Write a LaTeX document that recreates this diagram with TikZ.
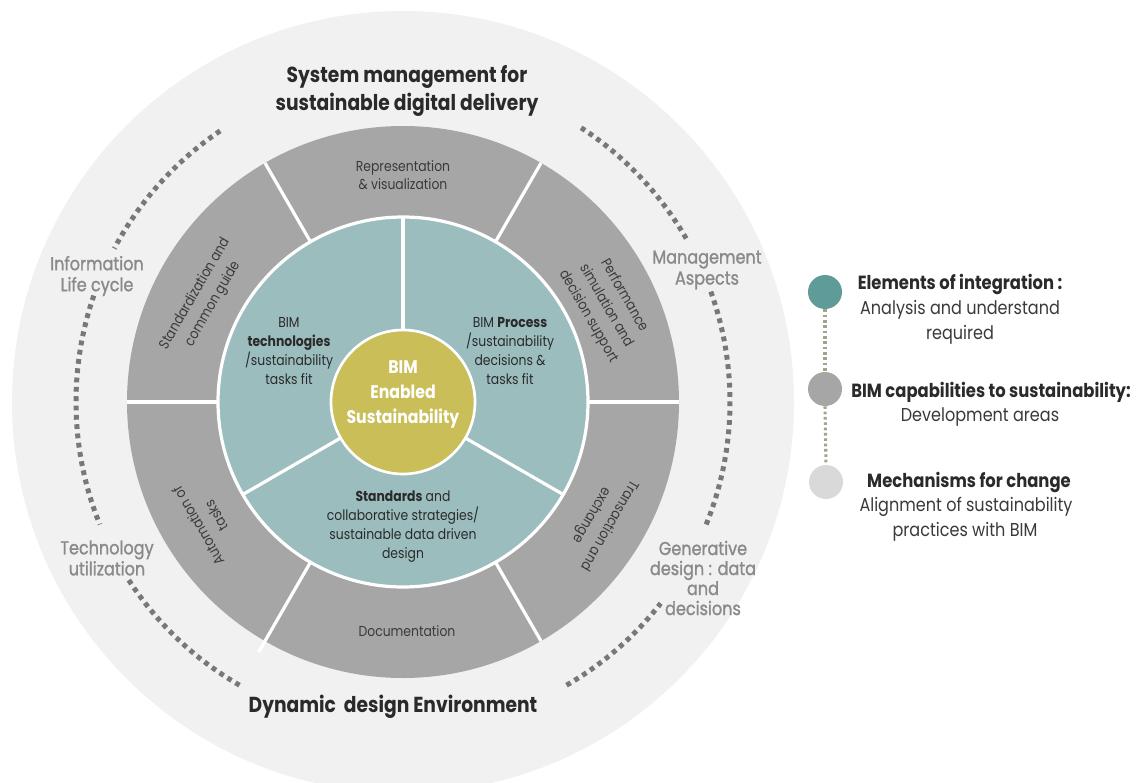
\documentclass[tikz,border=0pt]{standalone}
\usepackage{fontspec}
\setmainfont{Poppins}[FakeStretch=0.86]
\newfontfamily\medfont{Poppins}[FakeStretch=0.86,FakeBold=1.3]
\definecolor{outerc}{HTML}{F1F1F1}
\definecolor{ringc}{HTML}{A6A6A6}
\definecolor{tealc}{HTML}{9CBDBE}
\definecolor{yellowc}{HTML}{C9BE58}
\definecolor{dotc}{HTML}{787878}
\definecolor{segtext}{HTML}{3A3A3A}
\definecolor{labgray}{HTML}{8A8A8A}
\definecolor{darktext}{HTML}{2A2A2A}
\definecolor{legteal}{HTML}{5F9B98}
\definecolor{leglight}{HTML}{D9D9D9}
\definecolor{legdot}{HTML}{A3A38C}
\begin{document}
\begin{tikzpicture}[x=0.75pt,y=0.75pt,
  segtxt/.style={font=\fontsize{10.8}{13.8}\selectfont, text=segtext, align=center, inner sep=0pt},
  rottxt/.style={font=\fontsize{10.8}{15.5}\selectfont, text=segtext, align=center, inner sep=0pt},
  tealtxt/.style={font=\fontsize{10.8}{14.25}\selectfont, text=darktext, align=center, inner sep=0pt},
  coretxt/.style={font=\bfseries\fontsize{13.7}{18.75}\selectfont, text=white, align=center, inner sep=0pt},
  titletxt/.style={font=\bfseries\fontsize{16.3}{21}\selectfont, text=darktext, inner sep=0pt},
  ringlbl/.style={font=\medfont\fontsize{14}{15.75}\selectfont, text=labgray, align=center, inner sep=0pt},
  dotsarc/.style={draw=dotc, line width=3.75pt, dash pattern=on 3.6pt off 3.4pt},
  whiteline/.style={draw=white, line width=2.4pt},
  legcirc/.style={circle, minimum size=25.5pt, inner sep=0pt},
  legdots/.style={draw=legdot, line width=2.3pt, dash pattern=on 2pt off 2pt},
  leghead/.style={font=\bfseries\fontsize{14.3}{16}\selectfont, text=darktext, inner sep=0pt},
  legbody/.style={font=\fontsize{14}{16}\selectfont, text=segtext, inner sep=0pt}
]
\useasboundingbox (-403,-380) rectangle (742,402);
\clip (-403,-380) rectangle (742,402);
\fill[white] (-403,-380) rectangle (742,402);
% outer light disc
\fill[outerc] (0,0) circle[radius=391];
% gray ring
\fill[ringc] (0,0) circle[radius=276];
\foreach \a in {0,60,120,180,300}{
  \draw[whiteline] (\a:185) -- (\a:276);
}
\draw[whiteline] (240:185) -- (240:289);
% teal disc
\fill[tealc, draw=white, line width=2.4pt] (0,0) circle[radius=185];
\foreach \a in {90,210,330}{
  \draw[whiteline] (\a:72) -- (\a:185);
}
% core
\fill[yellowc, draw=white, line width=2pt] (0,0) circle[radius=72];
\node[coretxt] (core) at (0,7) {BIM\\Enabled\\Sustainability};
% teal sector texts
\node[tealtxt] (tech) at (-114,51) {BIM\\\textbf{technologies}\\/sustainability\\tasks fit};
\node[tealtxt] (proc) at (107,51) {BIM \textbf{Process}\\/sustainability\\decisions \&\\tasks fit};
\node[tealtxt] (stds) at (0,-125) {\textbf{Standards} and\\collaborative strategies/\\sustainable data driven\\design};
% gray ring texts
\node[segtxt] (repr) at (0,227) {Representation\\\& visualization};
\node[segtxt] (docu) at (4,-229) {Documentation};
\node[rottxt, rotate=60] (stdz) at (-199,103) {Standardization and\\common guide};
\node[rottxt, rotate=-60] (perf) at (203,96) {Performance\\simulation and\\decision support};
\node[rottxt, rotate=240] (tran) at (197,-118) {Transaction and\\exchange};
\node[rottxt, rotate=120] (auto) at (-196,-119) {Automation of\\tasks};
% titles
\node[titletxt] (t1) at (4,325) {System management for};
\node[titletxt] (t2) at (4,297) {sustainable digital delivery};
\node[titletxt] (t3) at (-10,-305) {Dynamic\ \ design Environment};
% outer ring labels
\node[ringlbl] (info) at (-306,126) {Information\\Life cycle};
\node[ringlbl] (techu) at (-296,-156) {Technology\\utilization};
\node[ringlbl] (mgmt) at (304,132) {Management\\Aspects};
\node[ringlbl, font=\medfont\fontsize{14}{15}\selectfont] (gen) at (300,-176) {Generative\\design : data\\and\\decisions};
% dotted arcs
\draw[dotsarc] (124:327) arc[start angle=124, end angle=152, radius=327];
\draw[dotsarc] (161:327) arc[start angle=161, end angle=202, radius=327];
\draw[dotsarc] (213:327) arc[start angle=213, end angle=240, radius=327];
\draw[dotsarc] (-60:327) arc[start angle=-60, end angle=-38, radius=327];
\draw[dotsarc] (-22:327) arc[start angle=-22, end angle=20, radius=327];
\draw[dotsarc] (30:327) arc[start angle=30, end angle=57, radius=327];
% legend
\node[legcirc, fill=legteal] (l1) at (422,110) {};
\node[legcirc, fill=ringc] (l2) at (422,13) {};
\node[legcirc, fill=leglight] (l3) at (423,-80) {};
\draw[legdots] (l1.south) -- (l2.north);
\draw[legdots] (l2.south) -- (l3.north);
\node[leghead] (h1) at (557,118) {Elements of integration :};
\node[legbody] (b1a) at (557,92) {Analysis and understand};
\node[legbody] (b1b) at (557,67) {required};
\node[leghead] (h2) at (588,10) {BIM capabilities to sustainability:};
\node[legbody] (b2a) at (577,-15) {Development areas};
\node[leghead] (h3) at (566,-80) {Mechanisms for change};
\node[legbody] (b3a) at (563,-105) {Alignment of sustainability};
\node[legbody] (b3b) at (562,-130) {practices with BIM};
\end{tikzpicture}
\end{document}
